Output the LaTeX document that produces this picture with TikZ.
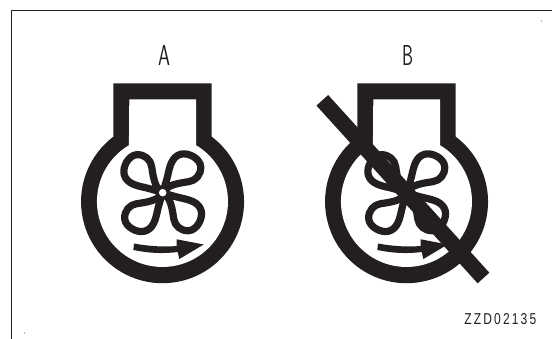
\documentclass[tikz,border=0pt]{standalone}
\usepackage{fontspec}
\setmainfont{Liberation Sans}
\setsansfont{Latin Modern Sans}
\newfontfamily\codefont[LetterSpace=18]{Liberation Sans}
\definecolor{ink}{HTML}{231F20}
\tikzset{
  framerule/.style={draw=ink,line width=1.4pt},
  petal/.style={draw=ink,line width=7.2pt,line join=round,fill=none},
  hub/.style={circle,fill=white,draw=none,minimum size=7.5pt,inner sep=0pt},
  slash/.style={draw=ink,line width=15.8pt},
  letter/.style={inner sep=0pt,text=ink},
  speck/.style={circle,fill=ink,inner sep=0pt,minimum size=1pt}
}
\newcommand{\vessel}[1]{%
  \begin{scope}[shift={(#1,0)}]
    \fill[ink] (113.3,83.3) -- (211.7,83.3) -- (211.7,136.7)
      arc[start angle=-52.9,end angle=232.9,radius=81.5] -- cycle;
    \fill[white] (129.3,99.3) -- (196,99.3) -- (196,145.2)
      arc[start angle=-59.2,end angle=239.2,radius=65.5] -- cycle;
    \begin{scope}[shift={(162.7,192.7)}]
      \foreach \r in {0,90,180,270}{
        \draw[petal,rotate=\r] (0,0)
          .. controls (-6,-2) and (-11,-3.5) .. (-17,-5)
          .. controls (-26,-7) and (-36,-9) .. (-38.5,-18)
          .. controls (-40.5,-26) and (-34,-37.5) .. (-26,-38)
          .. controls (-18,-38.5) and (-12,-33) .. (-11,-26)
          .. controls (-10,-19) and (-9,-12) .. (-6,-6)
          -- (0,0);
      }
    \end{scope}
    \fill[ink] (134,243.5) .. controls (150,246.5) and (165,247) .. (176.7,246)
      -- (176.7,239.3) -- (203.7,244.5) -- (179.3,259) -- (177.7,252)
      .. controls (162,254) and (148,253) .. (133.3,250) -- cycle;
  \end{scope}
}
\begin{document}
\begin{tikzpicture}[x=1pt,y=-1pt]
  \useasboundingbox (0,0) rectangle (552,339);
  \fill[white] (0,0) rectangle (552,339);
  \draw[framerule] (11.5,339) -- (11.5,10.5) -- (552,10.5);
  \vessel{0}
  \node[hub] (hubA) at (162.7,192.7) {};
  \vessel{244}
  \coordinate (slashStart) at (322.3,100.3);
  \coordinate (slashEnd) at (483.5,278);
  \draw[slash] (slashStart) -- (slashEnd);
  \node[letter] (labelA) at (164,55.7) {\resizebox{12pt}{20pt}{\fontsize{28}{28}\sffamily A}};
  \node[letter] (labelB) at (407.5,55.7) {\resizebox{11pt}{20pt}{\fontsize{28}{28}\sffamily B}};
  \node[letter] (code) at (500.3,319) {\resizebox{72pt}{11pt}{\codefont ZZD02135}};
  \node[speck] (speckA) at (541.5,21) {};
  \node[speck] (speckB) at (24.5,333) {};
\end{tikzpicture}
\end{document}
